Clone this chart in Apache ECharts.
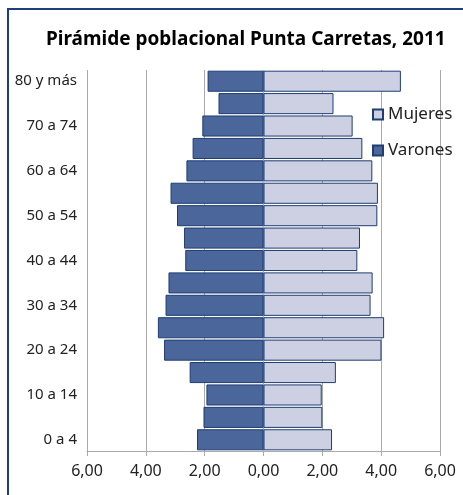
<!DOCTYPE html>
<html>
<head>
<meta charset="utf-8">
<script src="https://cdn.jsdelivr.net/npm/echarts@6/dist/echarts.min.js"></script>
<style>
  html, body { margin: 0; padding: 0; background: #fff; }
  #frame { position: absolute; left: 7px; top: 8px; width: 470px; height: 500px;
           border-left: 2px solid #1f3f7a; border-top: 2px solid #1f3f7a; }
  #chart { position: absolute; left: 0; top: 0; width: 463px; height: 495px; }
</style>
</head>
<body>
<div id="frame"></div>
<div id="chart"></div>
<script>
// grupos de edad, de abajo hacia arriba
const ageGroups = ['0 a 4', '5 a 9', '10 a 14', '15 a 19', '20 a 24', '25 a 29', '30 a 34',
  '35 a 39', '40 a 44', '45 a 49', '50 a 54', '55 a 59', '60 a 64', '65 a 69',
  '70 a 74', '75 a 79', '80 y más']
// porcentajes
const varones = [2.26, 2.04, 1.94, 2.51, 3.38, 3.59, 3.33, 3.23, 2.66, 2.70, 2.94, 3.16, 2.62, 2.41, 2.08, 1.53, 1.90]
const mujeres = [2.33, 2.00, 1.98, 2.46, 4.01, 4.10, 3.64, 3.71, 3.19, 3.28, 3.87, 3.89, 3.70, 3.36, 3.03, 2.38, 4.67]
const xTicks = [-6, -4, -2, 0, 2, 4, 6]

const chart = echarts.init(document.getElementById('chart'))
const font = 'Noto Sans'
const option = {
  animation: false,
  title: {
    text: 'Pirámide poblacional Punta Carretas, 2011',
    left: 41,
    top: 25,
    textStyle: { fontFamily: font, fontWeight: 'bold', fontSize: 19, color: '#000' }
  },
  legend: {
    orient: 'vertical',
    left: 367,
    top: 101,
    itemWidth: 10,
    itemHeight: 10,
    itemGap: 19,
    icon: 'rect',
    data: ['Mujeres', 'Varones'],
    textStyle: { fontFamily: font, fontSize: 17, color: '#222' }
  },
  grid: { left: 87, right: 23, top: 70, bottom: 44, containLabel: false },
  xAxis: {
    type: 'value',
    min: xTicks[0],
    max: xTicks[xTicks.length - 1],
    interval: 2,
    axisLine: { show: true, lineStyle: { color: '#aaa' } },
    axisTick: { show: true, length: 5, lineStyle: { color: '#aaa' } },
    splitLine: { show: true, lineStyle: { color: '#aaa' } },
    axisLabel: {
      fontFamily: font, fontSize: 16, color: '#222', margin: 12,
      formatter: v => Math.abs(v).toFixed(2).replace('.', ',')
    }
  },
  yAxis: {
    type: 'category',
    data: ageGroups,
    axisLine: { show: false },
    axisTick: { show: false },
    axisLabel: {
      interval: 1, fontFamily: font, fontSize: 15, color: '#222', margin: 10
    }
  },
  series: [
    {
      name: 'Varones',
      type: 'bar',
      stack: 'p',
      barCategoryGap: '6%',
      data: varones.map(v => -v),
      itemStyle: { color: '#4a669a', borderColor: '#1f3d72', borderWidth: 1 }
    },
    {
      name: 'Mujeres',
      type: 'bar',
      stack: 'p',
      barCategoryGap: '6%',
      data: mujeres,
      itemStyle: { color: '#ccd0e2', borderColor: '#1f3d72', borderWidth: 1 }
    }
  ]
}
chart.setOption(option)
</script>
</body>
</html>
